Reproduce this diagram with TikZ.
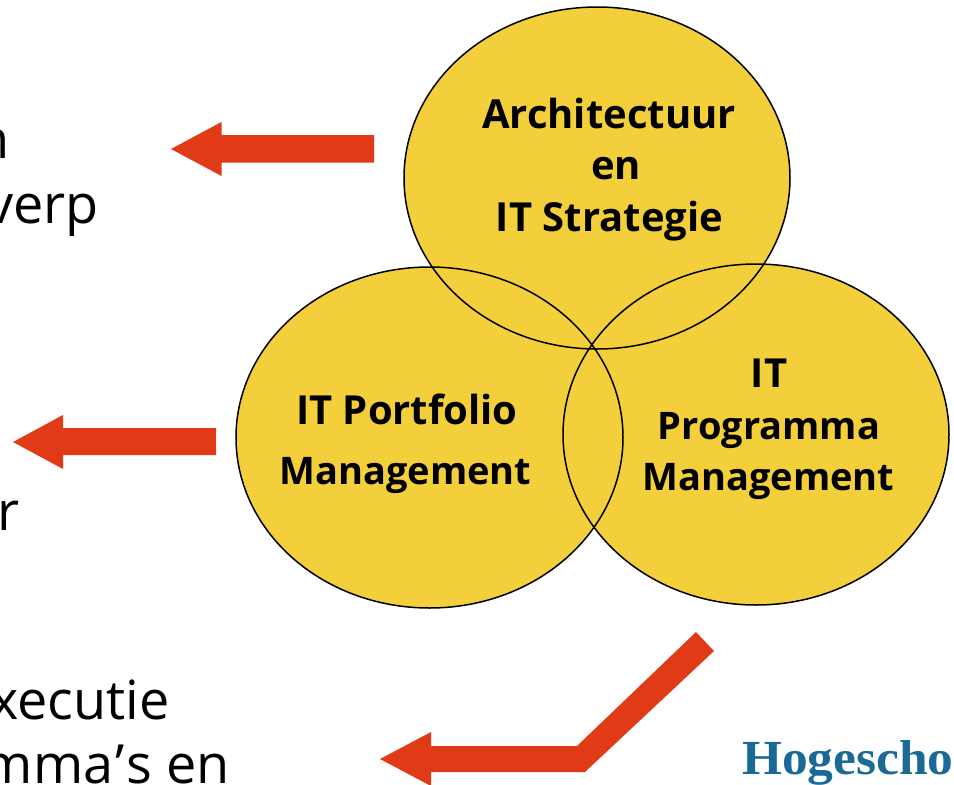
\documentclass[tikz,border=0pt]{standalone}
\usepackage{fontspec}
\setmainfont{Open Sans}
\newfontfamily\logofont[FakeStretch=1.05]{Liberation Serif}
\definecolor{discfill}{HTML}{F3D03B}
\definecolor{arrowred}{HTML}{E03A17}
\definecolor{logoblue}{HTML}{1B6A96}
\tikzset{
  disc/.style={fill=discfill},
  ring/.style={draw=black,line width=1.5pt},
  blockarrow/.style={fill=arrowred,draw=none},
  lab/.style={inner sep=0pt,font=\fontsize{40}{40}\selectfont\bfseries,anchor=base},
  labn/.style={inner sep=0pt,font=\fontsize{38}{38}\selectfont\bfseries,anchor=base},
  side/.style={inner sep=0pt,font=\fontsize{54}{54}\selectfont,anchor=base east},
}
\begin{document}
\begin{tikzpicture}[x=1pt,y=-1pt]
\useasboundingbox (0,0) rectangle (954,785);
\clip (0,0) rectangle (954,785);
\fill[white] (0,0) rectangle (954,785);
% discs
\fill[disc] (597,178) ellipse [x radius=193,y radius=171];
\fill[disc] (429.5,437.5) ellipse [x radius=193.5,y radius=170.5];
\fill[disc] (756,434.5) ellipse [x radius=193,y radius=170.5];
\draw[ring] (597,178) ellipse [x radius=193,y radius=171];
\draw[ring] (429.5,437.5) ellipse [x radius=193.5,y radius=170.5];
\draw[ring] (756,434.5) ellipse [x radius=193,y radius=170.5];
% labels
\node[lab] (a1) at (609,128) {Architectuur};
\node[lab] (a2) at (616,179) {en};
\node[lab] (a3) at (609.5,231) {IT Strategie};
\node[lab] (b1) at (407,424) {IT Portfolio};
\node[labn] (b2) at (405.5,484) {Management};
\node[lab] (c1) at (769,387) {IT};
\node[labn] (c2) at (769,439) {Programma};
\node[labn] (c3) at (768.5,490) {Management};
% block arrows
\fill[blockarrow] (374,135) -- (221.5,135) -- (221.5,122) -- (171,149) -- (221.5,176) -- (221.5,162.5) -- (374,162.5) -- cycle;
\fill[blockarrow] (216,428) -- (63,428) -- (63,415) -- (13,442) -- (63,469) -- (63,455) -- (216,455) -- cycle;
\fill[blockarrow] (696,632) -- (714,651) -- (585,772) -- (431,772) -- (431,786) -- (380,759) -- (431,732) -- (431,746) -- (577,746) -- cycle;
% clipped side text
\node[side] (s1) at (10,158) {n};
\node[side] (s2) at (99,223) {verp};
\node[side] (s3) at (20,530) {r};
\node[side] (s4) at (170,719.5) {xecutie};
\node[side] (s5) at (230,783) {mma\kern2pt\symbol{39}\kern2pt s en};
\node[inner sep=0pt,anchor=base west,text=logoblue,font=\logofont\fontsize{49}{49}\selectfont\bfseries] (logo) at (742,774) {Hogescho};
\end{tikzpicture}
\end{document}
